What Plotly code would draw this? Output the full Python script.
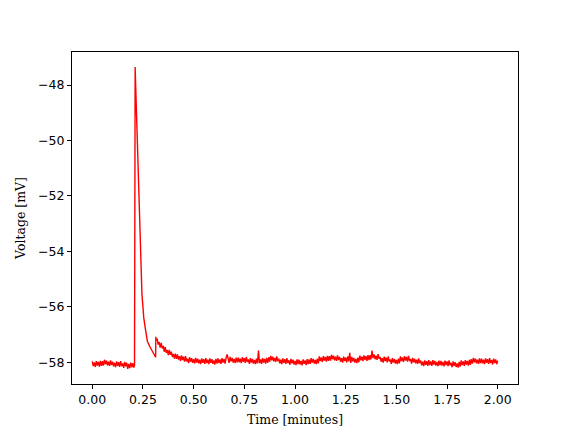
import numpy as np
import plotly.graph_objects as go

# --- data (time in minutes, voltage in mV) ---
sample_step = 0.005  # spacing of the noisy baseline samples (minutes)

# baseline before the event, from t = 0.000 min
pre_start = 0.0
pre_volt = [-57.97, -58.14, -58.01, -58.17, -57.96, -58.12, -57.99, -58.16, -57.95, -58.13,
            -57.96, -58.12, -57.91, -58.07, -57.94, -58.11, -57.98, -58.13, -57.93, -58.10,
            -57.98, -58.15, -58.02, -58.18, -57.97, -58.13, -58.00, -58.17, -57.96, -58.14,
            -58.04, -58.20, -57.99, -58.15, -58.02, -58.24, -58.06, -58.21, -58.01, -58.18,
            -58.03, -58.19]

# fast spike and first decay
spike_time = [0.2085, 0.2100, 0.2115, 0.2140, 0.2170, 0.2200, 0.2230, 0.2260, 0.2290,
              0.2320, 0.2350, 0.2380, 0.2410, 0.2450, 0.2500, 0.2540, 0.2630, 0.2720, 0.2850,
              0.2960, 0.3050, 0.3110, 0.3125, 0.3135, 0.3150]
spike_volt = [-58.10, -47.60, -47.35, -48.00, -48.80, -49.50, -50.30, -51.10, -51.90,
              -52.90, -53.70, -54.30, -54.90, -55.55, -56.00, -56.40, -56.84, -57.25, -57.45,
              -57.60, -57.70, -57.80, -57.82, -57.08, -57.20]

# second decay and long baseline, from t = 0.320 min
post_start = 0.32
post_volt = [
    -57.15, -57.36, -57.27, -57.47, -57.30, -57.50, -57.41, -57.62, -57.45, -57.66,
    -57.56, -57.74, -57.55, -57.73, -57.62, -57.81, -57.70, -57.87, -57.69, -57.88,
    -57.72, -57.90, -57.78, -57.95, -57.75, -57.92, -57.80, -57.98, -57.78, -57.97,
    -57.87, -58.03, -57.82, -57.98, -57.85, -58.02, -57.89, -58.04, -57.84, -58.01,
    -57.87, -58.04, -57.91, -58.07, -57.86, -58.02, -57.89, -58.06, -57.85, -58.03,
    -57.91, -58.07, -57.86, -58.02, -57.89, -58.06, -57.93, -58.08, -57.88, -58.05,
    -57.86, -58.03, -57.90, -58.06, -57.85, -58.01, -57.88, -58.05, -57.84, -57.72,
    -57.86, -58.02, -57.81, -57.97, -57.84, -58.01, -57.88, -58.03, -57.83, -58.00,
    -57.83, -58.00, -57.87, -58.03, -57.82, -57.98, -57.85, -58.02, -57.81, -57.99,
    -57.90, -58.06, -57.85, -58.01, -57.88, -58.05, -57.92, -58.07, -57.87, -58.04,
    -57.58, -58.03, -57.90, -58.06, -57.85, -58.01, -57.88, -58.05, -57.84, -58.02,
    -57.82, -57.98, -57.77, -57.93, -57.80, -57.97, -57.84, -57.99, -57.79, -57.96,
    -57.87, -58.04, -57.91, -58.07, -57.86, -58.02, -57.89, -58.06, -57.85, -58.03,
    -57.93, -58.09, -57.88, -58.04, -57.91, -58.08, -57.95, -58.10, -57.90, -58.07,
    -57.91, -58.08, -57.95, -58.11, -57.90, -58.06, -57.93, -58.10, -57.89, -58.07,
    -57.90, -58.06, -57.85, -58.01, -57.88, -58.05, -57.92, -58.07, -57.87, -58.04,
    -57.79, -57.96, -57.83, -57.99, -57.78, -57.94, -57.81, -57.98, -57.77, -57.95,
    -57.78, -57.94, -57.73, -57.89, -57.76, -57.93, -57.80, -57.95, -57.75, -57.92,
    -57.81, -57.98, -57.85, -58.01, -57.80, -57.96, -57.83, -58.00, -57.79, -57.97,
    -57.66, -58.02, -57.81, -57.97, -57.84, -58.01, -57.88, -58.03, -57.83, -58.00,
    -57.76, -57.93, -57.80, -57.96, -57.75, -57.91, -57.78, -57.95, -57.74, -57.92,
    -57.74, -57.90, -57.58, -57.85, -57.72, -57.89, -57.76, -57.91, -57.71, -57.88,
    -57.81, -57.98, -57.85, -58.01, -57.80, -57.96, -57.83, -58.00, -57.79, -57.97,
    -57.90, -58.06, -57.85, -58.01, -57.88, -58.05, -57.92, -58.07, -57.87, -58.04,
    -57.79, -57.96, -57.83, -57.99, -57.78, -57.94, -57.81, -57.98, -57.77, -57.95,
    -57.89, -58.05, -57.84, -58.00, -57.87, -58.04, -57.91, -58.06, -57.86, -58.03,
    -57.94, -58.11, -57.98, -58.14, -57.93, -58.09, -57.96, -58.13, -57.92, -58.10,
    -57.97, -58.13, -57.92, -58.08, -57.95, -58.12, -57.99, -58.14, -57.94, -58.11,
    -57.95, -58.12, -57.99, -58.15, -57.94, -58.10, -57.97, -58.14, -57.93, -58.11,
    -58.02, -58.18, -57.97, -58.13, -58.00, -58.17, -58.04, -58.19, -57.99, -58.16,
    -57.93, -58.10, -57.97, -58.13, -57.92, -58.08, -57.95, -58.12, -57.91, -58.09,
    -57.89, -58.05, -57.84, -58.00, -57.87, -58.04, -57.91, -58.06, -57.86, -58.03,
    -57.87, -58.04, -57.91, -58.07, -57.86, -58.02, -57.89, -58.06, -57.85, -58.03,
    -57.92, -58.08, -57.87, -58.03, -57.90, -58.07, -57.94]

x_ticks = [0.0, 0.25, 0.5, 0.75, 1.0, 1.25, 1.5, 1.75, 2.0]
y_ticks = [-48, -50, -52, -54, -56, -58]

# --- assemble the trace ---
pre_time = pre_start + sample_step * np.arange(len(pre_volt))
post_time = post_start + sample_step * np.arange(len(post_volt))
time_all = np.concatenate([pre_time, spike_time, post_time])
volt_all = np.concatenate([pre_volt, spike_volt, post_volt])

fig = go.Figure()
fig.add_trace(go.Scatter(x=time_all, y=volt_all, mode="lines",
                         line=dict(color="#ff0000", width=1.4),
                         hoverinfo="x+y", showlegend=False))

vmin, vmax = float(np.min(volt_all)), float(np.max(volt_all))
pad_y = 0.05 * (vmax - vmin)
tmin, tmax = float(np.min(time_all)), float(np.max(time_all))
pad_x = 0.05 * (tmax - tmin)

axis_common = dict(showline=True, linecolor="black", linewidth=1, mirror=True,
                   ticks="outside", ticklen=4, tickwidth=1, tickcolor="black",
                   showgrid=False, zeroline=False, automargin=False,
                   tickfont=dict(family="DejaVu Sans", size=12.5, color="black"))

# page body has an 8px margin, so the figure is 8px smaller than the window
fig.update_layout(
    width=568, height=424,
    margin=dict(l=64, r=58, t=44, b=48),
    paper_bgcolor="white", plot_bgcolor="white",
    xaxis=dict(range=[tmin - pad_x, tmax + pad_x], tickvals=x_ticks,
               tickformat=".2f",
               title=dict(text="Time [minutes]", standoff=9,
                          font=dict(family="DejaVu Serif", size=12.5, color="black")),
               **axis_common),
    yaxis=dict(range=[vmin - pad_y, vmax + pad_y], tickvals=y_ticks,
               title=dict(text="Voltage [mV]", standoff=9,
                          font=dict(family="DejaVu Serif", size=12.5, color="black")),
               **axis_common),
)

fig.write_html("out.html")
